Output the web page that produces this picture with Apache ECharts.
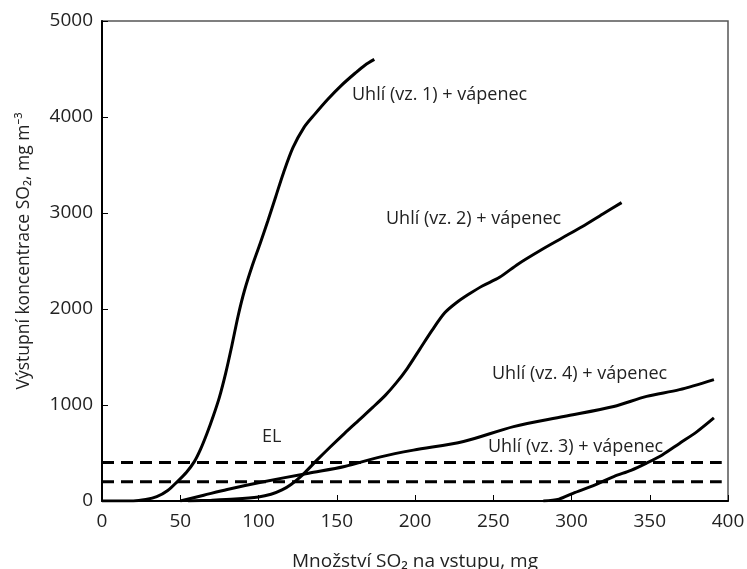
<!DOCTYPE html>
<html lang="cs">
<head>
    <meta charset="UTF-8">
    <title>Výstupní koncentrace SO2</title>
    <script src="https://cdn.jsdelivr.net/npm/echarts@6/dist/echarts.min.js"></script>
    <style>
        html, body { margin: 0; padding: 0; background: #fff; }
    </style>
</head>
<body>
<div id="main" style="width: 747px;height:569px;"></div>
<script type="text/javascript">
    // hodnoty: [SO2 na vstupu (mg), koncentrace (mg m-3)]
    var coal1 = [[0,0],[20,0],[28,15],[35,45],[42,110],[48,200],[54,300],[59,410],[63,540],[67,700],
        [71,880],[75,1080],[79,1330],[83,1620],[87,1930],[91,2190],[96,2450],[101,2680],[106,2920],
        [111,3170],[116,3420],[122,3680],[129,3890],[136,4030],[144,4180],[153,4330],[162,4460],
        [168,4540],[174,4600]];
    var coal2 = [[55,0],[70,8],[85,20],[100,42],[108,70],[115,115],[121,175],[128,270],[137,420],
        [146,565],[155,705],[164,840],[173,975],[181,1100],[188,1230],[195,1380],[203,1580],[211,1780],
        [219,1960],[226,2060],[234,2150],[243,2240],[254,2330],[266,2470],[280,2610],[294,2740],
        [307,2860],[320,2990],[332,3108]];
    var coal3 = [[282,0],[292,20],[301,80],[314,160],[327,255],[338,320],[348,395],[358,480],
        [369,600],[380,720],[391,865]];
    var coal4 = [[50,0],[65,60],[80,120],[100,190],[132,290],[155,360],[178,460],[199,530],[231,620],
        [263,775],[295,880],[327,985],[348,1090],[369,1160],[391,1265]];
    var elLevels = [400, 200];
    var elRange = [0, 396];

    var xTicks = [0, 400, 50];      // min, max, interval
    var yTicks = [0, 5000, 1000];

    var labels = [
        {text: 'Uhlí (vz. 1) + vápenec', x: 352, y: 95},
        {text: 'Uhlí (vz. 2) + vápenec', x: 386, y: 219},
        {text: 'Uhlí (vz. 4) + vápenec', x: 492, y: 374},
        {text: 'Uhlí (vz. 3) + vápenec', x: 488, y: 447},
        {text: 'EL', x: 262, y: 437}
    ];

    var font = '"Open Sans", "Noto Sans", sans-serif';
    var myChart = echarts.init(document.getElementById('main'));

    function curve(data) {
        return {
            type: 'line',
            data: data,
            smooth: 0.3,
            symbol: 'none',
            lineStyle: {color: '#000', width: 3},
            z: 3
        };
    }

    var series = [curve(coal1), curve(coal2), curve(coal3), curve(coal4)];
    elLevels.forEach(function (v) {
        series.push({
            type: 'line',
            data: [[elRange[0], v], [elRange[1], v]],
            symbol: 'none',
            lineStyle: {color: '#000', width: 3, type: [12, 7]},
            z: 2
        });
    });

    var option = {
        animation: false,
        backgroundColor: '#fff',
        grid: {
            left: 102, right: 19, top: 21, bottom: 68,
            outerBoundsMode: 'none',
            containLabel: false,
            show: true,
            borderColor: '#555',
            borderWidth: 1.5
        },
        xAxis: {
            type: 'value',
            min: xTicks[0], max: xTicks[1], interval: xTicks[2],
            name: 'Množství SO₂ na vstupu, mg',
            nameLocation: 'middle',
            nameGap: 51,
            nameTextStyle: {fontFamily: font, fontSize: 19, color: '#222'},
            axisLine: {lineStyle: {color: '#000', width: 2}},
            axisTick: {inside: true, length: 6, lineStyle: {color: '#000', width: 1}},
            axisLabel: {fontFamily: font, fontSize: 19, color: '#222', margin: 11},
            splitLine: {show: false}
        },
        yAxis: {
            type: 'value',
            min: yTicks[0], max: yTicks[1], interval: yTicks[2],
            name: 'Výstupní koncentrace SO₂, mg m⁻³',
            nameLocation: 'middle',
            nameGap: 69,
            nameTextStyle: {fontFamily: font, fontSize: 17.5, color: '#222', padding: [0, 0, 0, 20]},
            axisLine: {lineStyle: {color: '#000', width: 2}},
            axisTick: {inside: true, length: 6, lineStyle: {color: '#000', width: 1}},
            axisLabel: {
                fontFamily: font, fontSize: 19, color: '#222', margin: 9,
                formatter: function (v) { return String(v); }
            },
            splitLine: {show: false}
        },
        graphic: labels.map(function (l) {
            return {
                type: 'text',
                x: l.x, y: l.y,
                style: {
                    text: l.text,
                    font: '18px ' + font,
                    fill: '#222',
                    verticalAlign: 'middle'
                },
                z: 10
            };
        }),
        series: series
    };

    myChart.setOption(option);
</script>
</body>
</html>
